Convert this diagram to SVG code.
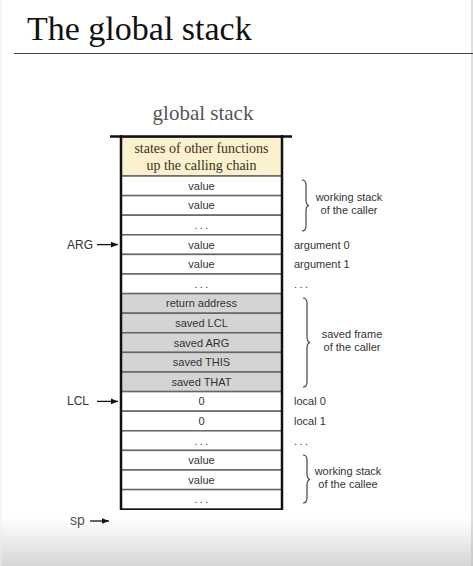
<svg xmlns="http://www.w3.org/2000/svg" width="473" height="566" viewBox="0 0 473 566">
<defs>
<linearGradient id="bot" x1="0" y1="0" x2="0" y2="1">
<stop offset="0" stop-color="#ffffff"/>
<stop offset="1" stop-color="#d6d6d6"/>
</linearGradient>
<marker id="ah" viewBox="0 0 10 10" refX="10" refY="5" markerWidth="7" markerHeight="7" markerUnits="userSpaceOnUse" orient="auto">
<path d="M0,1 L10,5 L0,9 Z" fill="#111"/>
</marker>
<style>
.cell{stroke:#666;stroke-width:1.5}
.w{fill:#ffffff}
.g{fill:#d4d4d4}
.y{fill:#fcf1cf}
.t{font-family:"Liberation Sans",Arial,sans-serif;font-size:11px;fill:#333}
.c{text-anchor:middle}
.dots{letter-spacing:2.5px}
.s{font-family:"Liberation Serif","Times New Roman",serif}
.brace{fill:none;stroke:#444;stroke-width:1.2}
.arr{stroke:#111;stroke-width:1.3;marker-end:url(#ah)}
.lab{font-family:"Liberation Sans",Arial,sans-serif;font-size:12px;fill:#333}
</style>
</defs>
<rect x="0" y="0" width="473" height="566" fill="#ffffff"/>
<rect x="0" y="518" width="473" height="48" fill="url(#bot)"/>
<line x1="472" y1="0" x2="472" y2="566" stroke="#bbb" stroke-width="1"/>
<line x1="1" y1="0" x2="1" y2="566" stroke="#eee" stroke-width="1"/>

<g id="title">
<text x="27" y="40" class="s" font-size="34" fill="#111">The global stack</text>
<line x1="14" y1="53.5" x2="473" y2="53.5" stroke="#444" stroke-width="1.2"/>
</g>

<g id="stack-label">
<text x="203" y="120" class="s c" font-size="21" fill="#555">global stack</text>
</g>

<g id="stack">
<g id="cell-states">
<rect x="121" y="137" width="161" height="39" class="y cell"/>
<text x="201.5" y="153" class="s c" font-size="14" fill="#3a3020">states of other functions</text>
<text x="201.5" y="170" class="s c" font-size="14" fill="#3a3020">up the calling chain</text>
</g>
<g id="row0"><rect x="121" y="176" width="161" height="19.6" class="w cell"/><text x="201.5" y="189.8" class="t c">value</text></g>
<g id="row1"><rect x="121" y="195.6" width="161" height="19.6" class="w cell"/><text x="201.5" y="209.4" class="t c">value</text></g>
<g id="row2"><rect x="121" y="215.2" width="161" height="19.6" class="w cell"/><text x="202.5" y="229" class="t c dots">...</text></g>
<g id="row3"><rect x="121" y="234.8" width="161" height="19.6" class="w cell"/><text x="201.5" y="248.6" class="t c">value</text></g>
<g id="row4"><rect x="121" y="254.4" width="161" height="19.6" class="w cell"/><text x="201.5" y="268.2" class="t c">value</text></g>
<g id="row5"><rect x="121" y="274" width="161" height="19.6" class="w cell"/><text x="202.5" y="287.8" class="t c dots">...</text></g>
<g id="row6"><rect x="121" y="293.6" width="161" height="19.6" class="g cell"/><text x="201.5" y="307.4" class="t c">return address</text></g>
<g id="row7"><rect x="121" y="313.2" width="161" height="19.6" class="g cell"/><text x="201.5" y="327" class="t c">saved LCL</text></g>
<g id="row8"><rect x="121" y="332.8" width="161" height="19.6" class="g cell"/><text x="201.5" y="346.6" class="t c">saved ARG</text></g>
<g id="row9"><rect x="121" y="352.4" width="161" height="19.6" class="g cell"/><text x="201.5" y="366.2" class="t c">saved THIS</text></g>
<g id="row10"><rect x="121" y="372" width="161" height="19.6" class="g cell"/><text x="201.5" y="385.8" class="t c">saved THAT</text></g>
<g id="row11"><rect x="121" y="391.6" width="161" height="19.6" class="w cell"/><text x="201.5" y="405.4" class="t c">0</text></g>
<g id="row12"><rect x="121" y="411.2" width="161" height="19.6" class="w cell"/><text x="201.5" y="425" class="t c">0</text></g>
<g id="row13"><rect x="121" y="430.8" width="161" height="19.6" class="w cell"/><text x="202.5" y="444.6" class="t c dots">...</text></g>
<g id="row14"><rect x="121" y="450.4" width="161" height="19.6" class="w cell"/><text x="201.5" y="464.2" class="t c">value</text></g>
<g id="row15"><rect x="121" y="470" width="161" height="19.6" class="w cell"/><text x="201.5" y="483.8" class="t c">value</text></g>
<g id="row16"><rect x="121" y="489.6" width="161" height="19.6" class="w cell"/><text x="202.5" y="503.4" class="t c dots">...</text></g>
<g id="stack-frame" fill="none" stroke="#111">
<line x1="110" y1="136.5" x2="292" y2="136.5" stroke-width="2.5"/>
<line x1="121" y1="135" x2="121" y2="510" stroke-width="2.5"/>
<line x1="282" y1="135" x2="282" y2="510" stroke-width="2.5"/>
<line x1="121" y1="509.2" x2="282" y2="509.2" stroke-width="1.5"/>
</g>
</g>

<g id="right-labels">
<text x="294" y="248.6" class="t">argument 0</text>
<text x="294" y="268.2" class="t">argument 1</text>
<text x="294" y="287.8" class="t dots">...</text>
<text x="294" y="405.4" class="t">local 0</text>
<text x="294" y="425" class="t">local 1</text>
<text x="294" y="444.6" class="t dots">...</text>
</g>

<g id="brace-caller-stack">
<path class="brace" d="M302,180 Q306,180 306,185 L306,200 Q306,205 309,205.5 Q306,206 306,211 L306,226 Q306,231 302,231"/>
<text x="349" y="201" class="t c">working stack</text>
<text x="349" y="214" class="t c">of the caller</text>
</g>
<g id="brace-saved-frame">
<path class="brace" d="M303,298 Q307,298 307,303 L307,337 Q307,342 310,342.5 Q307,343 307,348 L307,382 Q307,387 303,387"/>
<text x="352" y="338" class="t c">saved frame</text>
<text x="352" y="351" class="t c">of the caller</text>
</g>
<g id="brace-callee-stack">
<path class="brace" d="M303,455 Q307,455 307,460 L307,474 Q307,479 310,479.5 Q307,480 307,485 L307,498 Q307,503 303,503"/>
<text x="348" y="475" class="t c">working stack</text>
<text x="348" y="488" class="t c">of the callee</text>
</g>

<g id="pointers">
<g id="ARG"><text x="67" y="248.6" class="lab">ARG</text></g>
<g id="LCL"><text x="67" y="405.4" class="lab">LCL</text></g>
<g id="sp"><text x="70" y="525" font-family="Liberation Sans,Arial,sans-serif" font-size="14" fill="#555">sp</text></g>
</g>

<g id="connectors">
<line class="arr" x1="97" y1="244.6" x2="118" y2="244.6"/>
<line class="arr" x1="97" y1="401.4" x2="118" y2="401.4"/>
<line class="arr" x1="90" y1="521" x2="109" y2="521" stroke-width="1"/>
</g>
</svg>
